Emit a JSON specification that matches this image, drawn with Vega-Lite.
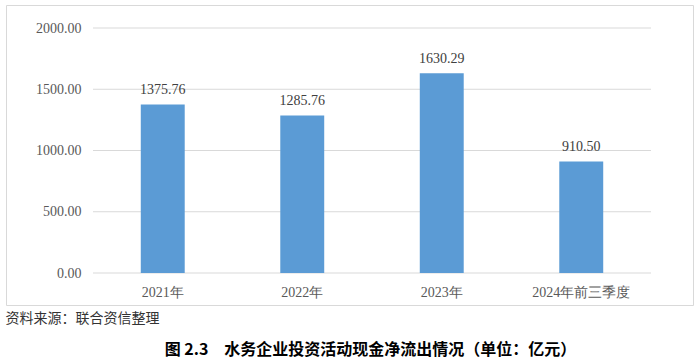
{
  "$schema": "https://vega.github.io/schema/vega-lite/v6.json",
  "width": 687,
  "height": 300,
  "autosize": "none",
  "padding": {"left": 6, "top": 5, "right": 7, "bottom": 56},
  "background": "white",
  "config": {"view": {"stroke": "#d9d9d9", "strokeWidth": 1}, "font": "Liberation Serif"},
  "title": {
    "text": "图 2.3　水务企业投资活动现金净流出情况（单位：亿元）",
    "orient": "bottom",
    "anchor": "middle",
    "frame": "group",
    "font": "Noto Sans CJK SC",
    "fontSize": 16,
    "fontWeight": "bold",
    "color": "#000000",
    "offset": 17,
    "dx": 21
  },
  "layer": [
    {
      "data": {"values": [{"v": 0}, {"v": 500}, {"v": 1000}, {"v": 1500}, {"v": 2000}]},
      "mark": {"type": "rule", "color": "#d9d9d9", "strokeWidth": 1},
      "encoding": {
        "y": {
          "field": "v",
          "type": "quantitative",
          "scale": {"domain": [0, 2000], "range": [268, 23], "nice": false, "zero": true},
          "axis": {
            "values": [0, 500, 1000, 1500, 2000],
            "format": ".2f",
            "offset": -87,
            "domain": false,
            "ticks": false,
            "grid": false,
            "labelPadding": 12,
            "labelFont": "Liberation Serif",
            "labelFontSize": 14,
            "labelColor": "#595959",
            "title": null
          }
        },
        "x": {"datum": 0, "type": "quantitative", "scale": {"domain": [0, 1], "range": [87, 645]}, "axis": null},
        "x2": {"datum": 1}
      }
    },
    {
      "data": {"values": [
        {"year": "2021年", "value": 1375.76},
        {"year": "2022年", "value": 1285.76},
        {"year": "2023年", "value": 1630.29},
        {"year": "2024年前三季度", "value": 910.50}
      ]},
      "encoding": {
        "x": {
          "field": "year",
          "type": "nominal",
          "sort": null,
          "scale": {"range": [87, 645], "paddingInner": 0.685, "paddingOuter": 0.3425},
          "axis": {
            "offset": -32,
            "domain": false,
            "ticks": false,
            "labelAngle": 0,
            "labelPadding": 12,
            "labelFont": "Liberation Serif",
            "labelFontSize": 14,
            "labelColor": "#595959",
            "title": "资料来源：联合资信整理",
            "titleX": -1,
            "titleY": 45,
            "titleAlign": "left",
            "titleAnchor": "start",
            "titleBaseline": "middle",
            "titleFont": "Noto Sans CJK SC",
            "titleFontSize": 14,
            "titleFontWeight": "normal",
            "titleColor": "#333333"
          }
        },
        "y": {"field": "value", "type": "quantitative"}
      },
      "layer": [
        {"mark": {"type": "bar", "color": "#5b9bd5"}},
        {
          "mark": {"type": "text", "baseline": "bottom", "dy": -7, "font": "Liberation Serif", "fontSize": 14, "color": "#404040"},
          "encoding": {"text": {"field": "value", "type": "quantitative", "format": ".2f"}}
        }
      ]
    }
  ],
  "resolve": {"scale": {"x": "independent"}}
}
